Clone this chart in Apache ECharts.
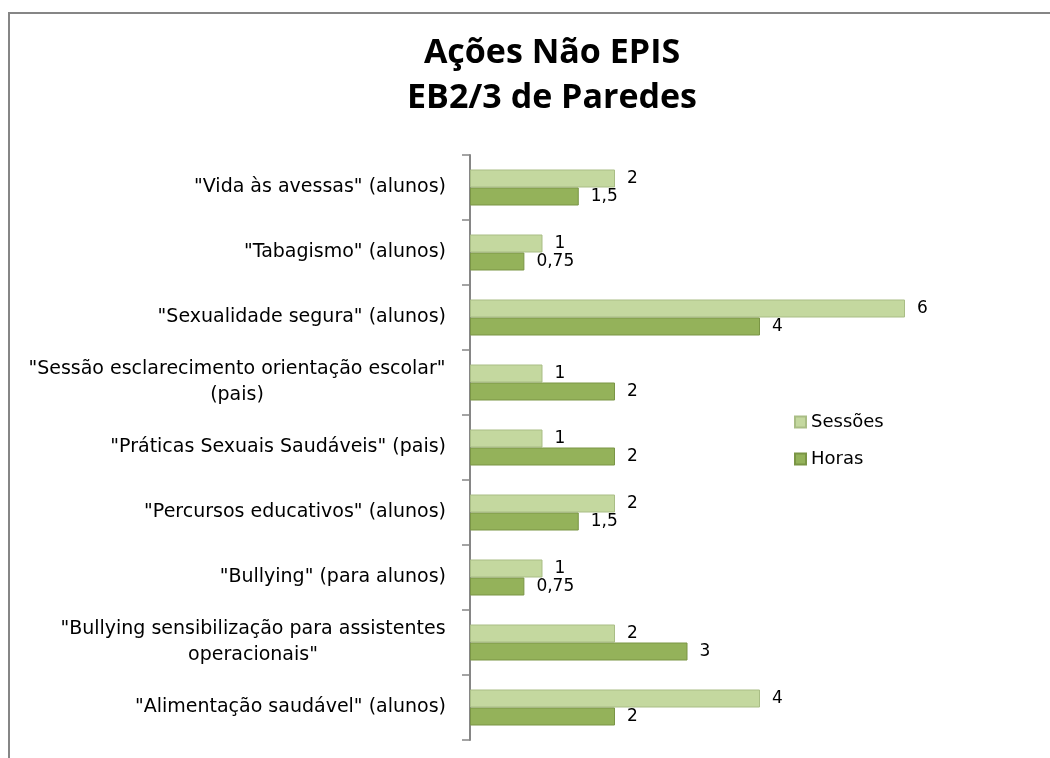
<!DOCTYPE html>
<html>
<head>
<meta charset="utf-8">
<script src="https://cdn.jsdelivr.net/npm/echarts@6/dist/echarts.min.js"></script>
<style>
	html, body { margin: 0; padding: 0; background: #fff; }
	#main { width: 1050px; height: 758px; }
</style>
</head>
<body>
<div id="main"></div>
<script>
	// categories from bottom to top, as the axis runs
	const categories = [
		'"Alimentação saudável" (alunos)',
		'"Bullying sensibilização para assistentes\noperacionais"',
		'"Bullying" (para alunos)',
		'"Percursos educativos" (alunos)',
		'"Práticas Sexuais Saudáveis" (pais)',
		'"Sessão esclarecimento orientação escolar"\n(pais)',
		'"Sexualidade segura" (alunos)',
		'"Tabagismo" (alunos)',
		'"Vida às avessas" (alunos)',
	]
	const sessoes = [4, 2, 1, 2, 1, 1, 6, 1, 2]
	const horas = [2, 3, 0.75, 1.5, 2, 2, 4, 0.75, 1.5]
	const seriesNames = ['Sessões', 'Horas']

	const FONT = 'DejaVu Sans'
	const CAT_SIZE = 19
	const ctx = document.createElement('canvas').getContext('2d')
	ctx.font = CAT_SIZE + 'px "' + FONT + '"'

	// multi-line labels: lines centred on each other, block right aligned
	const rich = {}
	categories.forEach((c, i) => {
		const ls = c.split('\n')
		if (ls.length > 1) {
			rich['c' + i] = {
				width: Math.ceil(Math.max(...ls.map((l) => ctx.measureText(l).width))),
				align: 'center',
				fontFamily: FONT,
				fontSize: CAT_SIZE,
				lineHeight: 26,
				color: '#000',
			}
		}
	})

	const numFmt = (p) => String(p.value).replace('.', ',')

	const chart = echarts.init(document.getElementById('main'))
	const option = {
		animation: false,
		title: {
			text: 'Ações Não EPIS\nEB2/3 de Paredes',
			left: 547,
			top: 26,
			textAlign: 'center',
			textStyle: {
				fontFamily: 'Open Sans',
				fontWeight: 'bold',
				fontSize: 34,
				lineHeight: 45,
				color: '#000',
			},
		},
		legend: {
			orient: 'vertical',
			left: 789,
			top: 408,
			itemWidth: 11,
			itemHeight: 11,
			itemGap: 19,
			icon: 'rect',
			data: seriesNames,
			textStyle: { fontFamily: FONT, fontSize: 18, color: '#000' },
		},
		grid: {
			left: 470,
			top: 155,
			bottom: 18,
			right: 72.5,
		},
		xAxis: {
			type: 'value',
			min: 0,
			max: 7,
			show: false,
		},
		yAxis: {
			type: 'category',
			data: categories,
			axisLine: { show: true, lineStyle: { color: '#868686', width: 2 } },
			axisTick: { show: true, length: 8, lineStyle: { color: '#868686', width: 1.5 } },
			axisLabel: {
				margin: 24,
				color: '#000',
				fontFamily: FONT,
				fontSize: CAT_SIZE,
				lineHeight: 26,
				formatter: (v, i) => {
					const ls = v.split('\n')
					if (ls.length === 1) return v
					return ls.map((l) => '{c' + i + '|' + l + '}').join('\n')
				},
				rich: rich,
			},
		},
		series: [
			{
				name: 'Sessões',
				type: 'bar',
				data: sessoes,
				barWidth: 18,
				barGap: '0%',
				itemStyle: { color: '#c4d89f', borderColor: '#a9bd85', borderWidth: 1 },
				label: {
					show: true,
					position: 'right',
					distance: 12,
					formatter: numFmt,
					fontFamily: FONT,
					fontSize: 17,
					color: '#000',
				},
			},
			{
				name: 'Horas',
				type: 'bar',
				data: horas,
				barWidth: 18,
				barGap: '0%',
				itemStyle: { color: '#94b25a', borderColor: '#7a9545', borderWidth: 1 },
				label: {
					show: true,
					position: 'right',
					distance: 12,
					formatter: numFmt,
					fontFamily: FONT,
					fontSize: 17,
					color: '#000',
				},
			},
		],
		graphic: [
			{
				type: 'polyline',
				shape: { points: [[9, 758], [9, 13], [1050, 13]] },
				style: { stroke: '#868686', lineWidth: 2, fill: null },
				silent: true,
			},
		],
	}
	chart.setOption(option)
</script>
</body>
</html>
